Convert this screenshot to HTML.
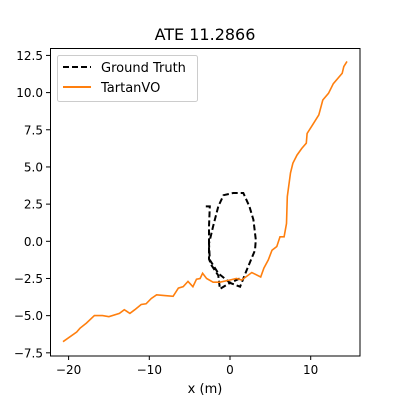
<!DOCTYPE html>
<html><head><meta charset="utf-8"><style>
body{margin:0;background:#fff;}
svg text{font-family:"DejaVu Sans","Liberation Sans",sans-serif;}
</style></head><body>
<svg id="chart" width="400" height="400" viewBox="0 0 400 400" xmlns="http://www.w3.org/2000/svg">
<rect width="400" height="400" fill="#fff"/>
<text x="205" y="40" font-size="16" text-anchor="middle">ATE 11.2866</text>
<g id="marks"></g>
<rect x="50.5" y="48.5" width="309.5" height="307.5" fill="none" stroke="#000" stroke-width="1"/>
<g id="ticks"></g>
<text x="205" y="393" font-size="13" text-anchor="middle">x (m)</text>
<g>
<rect x="57.5" y="55.5" width="140" height="46" rx="2" fill="#fff" fill-opacity="0.8" stroke="#ccc"/>
<line x1="63" y1="67" x2="91" y2="67" stroke="#000" stroke-width="2" stroke-dasharray="6,3"/>
<text x="101" y="72" font-size="13">Ground Truth</text>
<line x1="63" y1="87" x2="91" y2="87" stroke="#ff7f0e" stroke-width="2"/>
<text x="101" y="92" font-size="13">TartanVO</text>
</g>
</svg>
<script>
const xTicks=[-20,-10,0,10];
const yTicks=[-7.5,-5.0,-2.5,0.0,2.5,5.0,7.5,10.0,12.5];
const voX=[-20.7,-19.0,-18.6,-17.8,-16.8,-15.8,-15.0,-13.7,-13.1,-12.4,-11.8,-11.0,-10.4,-9.75,-9.1,-8.1,-7.05,-6.4,-5.8,-5.2,-4.6,-4.15,-3.7,-3.4,-2.9,-2.1,-1.25,0,0.8,1.45,2.7,3.8,4.2,4.75,5.2,5.8,6.2,6.7,7.0,7.1,7.5,7.8,8.3,8.9,9.45,9.55,10.2,11.0,11.5,12.2,12.8,13.9,14.1,14.5];
const voY=[-6.75,-6.1,-5.85,-5.5,-5.0,-5.0,-5.07,-4.85,-4.6,-4.85,-4.6,-4.25,-4.2,-3.85,-3.6,-3.65,-3.7,-3.15,-3.05,-2.7,-3.05,-2.55,-2.5,-2.15,-2.5,-2.75,-2.75,-2.6,-2.5,-2.6,-2.1,-2.4,-1.8,-1.25,-0.6,-0.35,0.3,0.3,1.2,3.0,4.6,5.25,5.8,6.25,6.6,7.25,7.8,8.5,9.5,9.95,10.6,11.3,11.75,12.1];
const gtX=[-3.0,-2.5,-2.6,-2.6,-2.3,-1.45,-1.25,0,1.25,2.1,3.1,3.2,2.9,2.4,1.65,0.4,-0.8,-1.45,-2.1,-2.6,-2.5,-1.45,0,1.2];
const gtY=[2.35,2.35,1.0,-1.2,-1.6,-2.3,-3.2,-2.8,-3.05,-1.9,-0.6,0.1,1.45,2.35,3.25,3.25,3.1,2.35,1.0,-0.15,-1.25,-2.15,-2.8,-2.5];
const sx=v=>230+v*8.07;
const sy=v=>241.3-v*14.87;
const NS='http://www.w3.org/2000/svg';
const marks=document.getElementById('marks');
const ticks=document.getElementById('ticks');
function path(xs,ys){return xs.map((x,i)=>(i?'L':'M')+sx(x).toFixed(1)+','+sy(ys[i]).toFixed(1)).join('');}
const gt=document.createElementNS(NS,'path');
gt.setAttribute('d',path(gtX,gtY));
gt.setAttribute('fill','none');gt.setAttribute('stroke','#000');gt.setAttribute('stroke-width','2');gt.setAttribute('stroke-dasharray','6,3');


marks.appendChild(gt);
const vo=document.createElementNS(NS,'path');
vo.setAttribute('d',path(voX,voY));
vo.setAttribute('fill','none');vo.setAttribute('stroke','#ff7f0e');vo.setAttribute('stroke-width','1.6');


marks.appendChild(vo);
xTicks.forEach(t=>{
 const l=document.createElementNS(NS,'line');
 l.setAttribute('x1',sx(t));l.setAttribute('x2',sx(t));l.setAttribute('y1',356);l.setAttribute('y2',360);l.setAttribute('stroke','#000');
 
 
 ticks.appendChild(l);
 const s=document.createElementNS(NS,'text');
 s.setAttribute('x',sx(t));s.setAttribute('y',374);s.setAttribute('font-size','12');s.setAttribute('text-anchor','middle');
 s.textContent=String(t).replace('-','\u2212');
 
 
 ticks.appendChild(s);
});
yTicks.forEach(t=>{
 const l=document.createElementNS(NS,'line');
 l.setAttribute('x1',46);l.setAttribute('x2',50.5);l.setAttribute('y1',sy(t));l.setAttribute('y2',sy(t));l.setAttribute('stroke','#000');
 
 
 ticks.appendChild(l);
 const s=document.createElementNS(NS,'text');
 s.setAttribute('x',43);s.setAttribute('y',sy(t)+4.5);s.setAttribute('font-size','12');s.setAttribute('text-anchor','end');
 s.textContent=t.toFixed(1).replace('-','\u2212');
 
 
 ticks.appendChild(s);
});
</script>
</body></html>
